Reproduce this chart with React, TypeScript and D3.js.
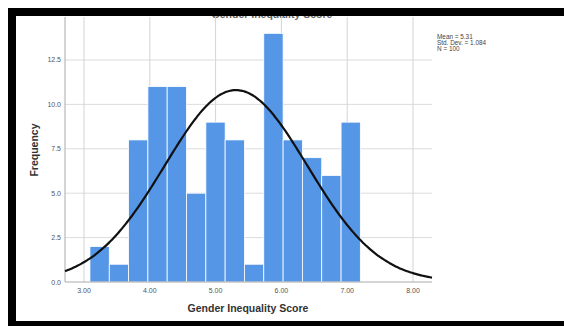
import React from "react";
import * as d3 from "d3";

const binEdges = [3.09, 3.384, 3.677, 3.971, 4.264, 4.558, 4.852, 5.145, 5.439, 5.732, 6.026, 6.32, 6.613, 6.907, 7.2];
const frequencies = [2, 1, 8, 11, 11, 5, 9, 8, 1, 14, 8, 7, 6, 9];
const xTicks = [3, 4, 5, 6, 7, 8];
const yTicks = [0, 2.5, 5, 7.5, 10, 12.5];
const mean = 5.31;
const stdDev = 1.084;
const n = 100;
const statLines = ["Mean = 5.31", "Std. Dev. = 1.084", "N = 100"];

const W = 564;
const H = 326;
const left = 65, right = 432, top = 17, bottom = 282;

export default function App() {
  const x = d3.scaleLinear().domain([2.711, 8.289]).range([left, right]);
  const y = d3.scaleLinear().domain([0, 14.92]).range([bottom, top]);
  const binW = (binEdges[binEdges.length - 1] - binEdges[0]) / frequencies.length;
  const pdf = (v: number) =>
    (n * binW) / (stdDev * Math.sqrt(2 * Math.PI)) * Math.exp(-0.5 * ((v - mean) / stdDev) ** 2);
  const curvePts = d3.range(0, 201).map((i) => {
    const v = 2.711 + (i / 200) * (8.289 - 2.711);
    return [v, pdf(v)] as [number, number];
  });
  const line = d3.line<[number, number]>().x((d) => x(d[0])).y((d) => y(d[1])).curve(d3.curveBasis);
  const font = "'Liberation Sans', Arial, sans-serif";

  return (
    <svg width={W} height={H} style={{ position: "absolute", left: 0, top: 0 }} fontFamily={font}>
      <rect x={0} y={0} width={W} height={H} fill="#fff" />
      {/* title partly hidden */}
      <text x={272} y={17.5} textAnchor="middle" fontSize={10.5} fontWeight="bold" fill="#666">
        Gender Inequality Score
      </text>
      {/* grid */}
      {yTicks.filter((t) => t > 0).map((t) => (
        <line key={"gy" + t} x1={left} x2={right} y1={y(t)} y2={y(t)} stroke="#dcdcdc" strokeWidth={1} />
      ))}
      {xTicks.map((t) => (
        <line key={"gx" + t} x1={x(t)} x2={x(t)} y1={top} y2={bottom} stroke="#d4d4d4" strokeWidth={1} />
      ))}
      {/* bars */}
      {frequencies.map((f, i) => (
        <rect
          key={"b" + i}
          x={x(binEdges[i])}
          y={y(f)}
          width={x(binEdges[i + 1]) - x(binEdges[i])}
          height={y(0) - y(f)}
          fill="#5596e6"
          stroke="#ffffff"
          strokeWidth={0.8}
        />
      ))}
      {/* axes */}
      <line x1={left} x2={left} y1={top} y2={bottom} stroke="#aaaaaa" strokeWidth={1} />
      <line x1={left} x2={right} y1={bottom} y2={bottom} stroke="#aaaaaa" strokeWidth={1} />
      {/* curve */}
      <path d={line(curvePts) || ""} fill="none" stroke="#111" strokeWidth={2.2} />
      {/* tick labels */}
      {yTicks.map((t) => (
        <text key={"ty" + t} x={left - 4} y={y(t) + 2.5} textAnchor="end" fontSize={7} fill="#555">
          {t.toFixed(1)}
        </text>
      ))}
      {xTicks.map((t) => (
        <text key={"tx" + t} x={x(t)} y={293} textAnchor="middle" fontSize={7} fill="#555">
          {t.toFixed(2)}
        </text>
      ))}
      <text x={248} y={312} textAnchor="middle" fontSize={10.5} fontWeight="bold" fill="#333">
        Gender Inequality Score
      </text>
      <text
        x={0}
        y={0}
        transform={`translate(38,150) rotate(-90)`}
        textAnchor="middle"
        fontSize={10.5}
        fontWeight="bold"
        fill="#333"
      >
        Frequency
      </text>
      {statLines.map((s, i) => (
        <text key={"s" + i} x={437} y={39 + i * 6} fontSize={6.4} fill="#444">
          {s}
        </text>
      ))}
      {/* black frame */}
      <rect x={8} y={8} width={W - 8} height={8} fill="#000" />
      <rect x={8} y={8} width={8} height={H - 8} fill="#000" />
      <rect x={8} y={321} width={W - 8} height={5} fill="#000" />
    </svg>
  );
}
